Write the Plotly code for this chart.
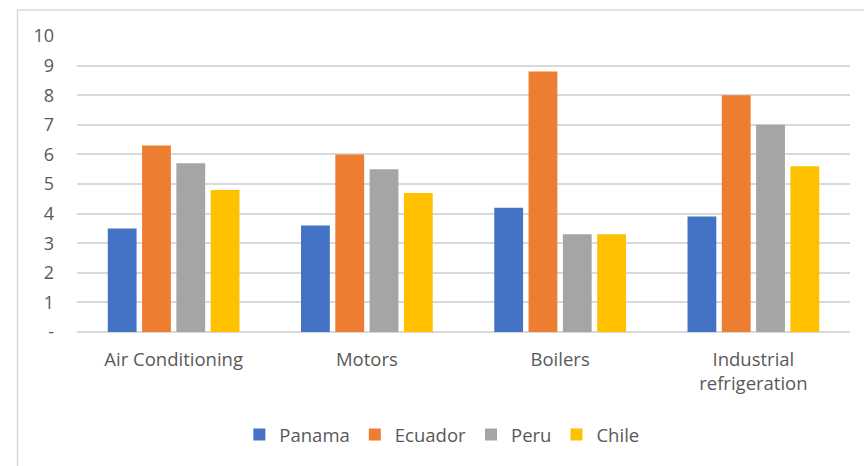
import plotly.graph_objects as go

categories = ["Air Conditioning", "Motors", "Boilers", "Industrial<br>refrigeration"]
panama = [3.5, 3.6, 4.2, 3.9]
ecuador = [6.3, 6.0, 8.8, 8.0]
peru = [5.7, 5.5, 3.3, 7.0]
chile = [4.8, 4.7, 3.3, 5.6]
series = [("Panama", panama, "#4472C4"), ("Ecuador", ecuador, "#ED7D31"),
          ("Peru", peru, "#A5A5A5"), ("Chile", chile, "#FFC000")]
tick_vals = [0, 1, 2, 3, 4, 5, 6, 7, 8, 9, 10]
tick_text = ["-", "1", "2", "3", "4", "5", "6", "7", "8", "9", "10"]

fig = go.Figure()
for name, vals, color in series:
    fig.add_trace(go.Bar(name=name, x=categories, y=vals, marker_color=color,
                         marker_line_width=0))

fig.update_layout(
    width=864, height=466,
    margin=dict(l=77, r=14, t=36, b=134),
    paper_bgcolor="white", plot_bgcolor="white",
    font=dict(family="Open Sans", size=18, color="#595959"),
    barmode="group", bargap=0.29, bargroupgap=0.16,
    legend=dict(orientation="h", x=0.472, xanchor="center", y=-0.348, yanchor="middle",
                font=dict(size=18.5, color="#595959"), itemwidth=30,
                traceorder="normal"),
    xaxis=dict(showgrid=False, showline=False, ticks="", tickfont=dict(size=18.5),
               ticklabelstandoff=14),
    yaxis=dict(range=[0, 10], tickvals=tick_vals, ticktext=tick_text,
               showgrid=True, gridcolor="#D9D9D9", gridwidth=1.5,
               zeroline=True, zerolinecolor="#D9D9D9", zerolinewidth=1.5,
               showline=False, ticks="", ticklabelstandoff=22, tickfont=dict(size=18)),
    shapes=[dict(type="rect", xref="paper", yref="paper", x0=-0.077, x1=1.2,
                 y0=-0.53, y1=1.088, line=dict(color="#D9D9D9", width=1.5),
                 fillcolor="rgba(0,0,0,0)", layer="below")],
)
fig.write_html("out.html")
